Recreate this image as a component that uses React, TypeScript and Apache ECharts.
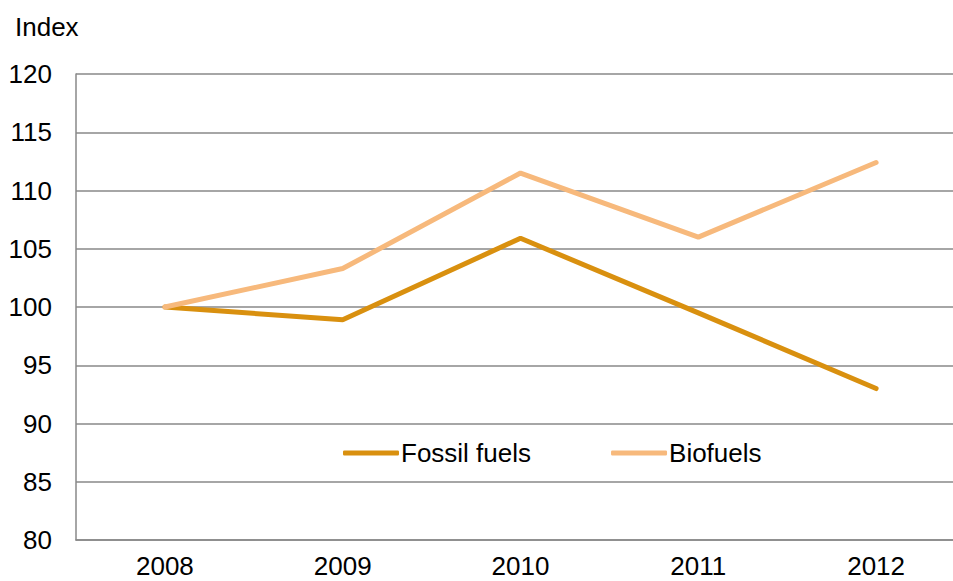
import React, { useEffect, useRef } from "react";
import * as echarts from "echarts";

const years = ["2008", "2009", "2010", "2011", "2012"];
const fossilFuels = [100, 98.9, 105.9, 99.5, 93.0];
const biofuels = [100, 103.3, 111.5, 106.0, 112.4];
const seriesNames = ["Fossil fuels", "Biofuels"];
const yTicks = { min: 80, max: 120, interval: 5 };
const yAxisTitle = "Index";

export default function App() {
  const ref = useRef<HTMLDivElement>(null);
  useEffect(() => {
    if (!ref.current) return;
    const chart = echarts.init(ref.current, null, { renderer: "svg" });
    const font = "'Liberation Sans', Arial, sans-serif";
    chart.setOption({
      animation: false,
      textStyle: { fontFamily: font },
      graphic: [
        {
          type: "text",
          left: 15,
          top: 14,
          style: { text: yAxisTitle, fontSize: 26, fontFamily: font, fill: "#000" },
        },
      ],
      legend: {
        left: 338,
        top: 435,
        itemWidth: 56,
        itemHeight: 5,
        itemGap: 80,
        icon: "roundRect",
        textStyle: { fontSize: 26, color: "#000", fontFamily: font, padding: [0, 0, 0, -3] },
        data: seriesNames,
      },
      grid: { left: 76, top: 74, bottom: 41, right: 10, containLabel: false },
      xAxis: {
        type: "category",
        data: years,
        boundaryGap: true,
        axisLine: { show: true, lineStyle: { color: "#888", width: 1.5 } },
        axisTick: { show: false },
        axisLabel: { fontSize: 26, color: "#000", margin: 13, fontFamily: font },
      },
      yAxis: {
        type: "value",
        min: yTicks.min,
        max: yTicks.max,
        interval: yTicks.interval,
        axisLine: { show: true, lineStyle: { color: "#888", width: 1.5 } },
        axisTick: { show: false },
        axisLabel: { fontSize: 26, color: "#000", margin: 24, fontFamily: font },
        splitLine: { show: true, lineStyle: { color: "#888", width: 1.5 } },
      },
      series: [
        {
          name: seriesNames[0],
          type: "line",
          data: fossilFuels,
          symbol: "none",
          lineStyle: { color: "#D9900F", width: 5, cap: "round" },
          itemStyle: { color: "#D9900F" },
        },
        {
          name: seriesNames[1],
          type: "line",
          data: biofuels,
          symbol: "none",
          lineStyle: { color: "#F7B97C", width: 5, cap: "round" },
          itemStyle: { color: "#F7B97C" },
        },
      ],
    });
    return () => chart.dispose();
  }, []);
  return (
    <div
      style={{ position: "absolute", left: 0, top: 0, width: 953, height: 581, overflow: "hidden" }}
    >
      <div ref={ref} style={{ width: 975, height: 581 }} />
    </div>
  );
}
